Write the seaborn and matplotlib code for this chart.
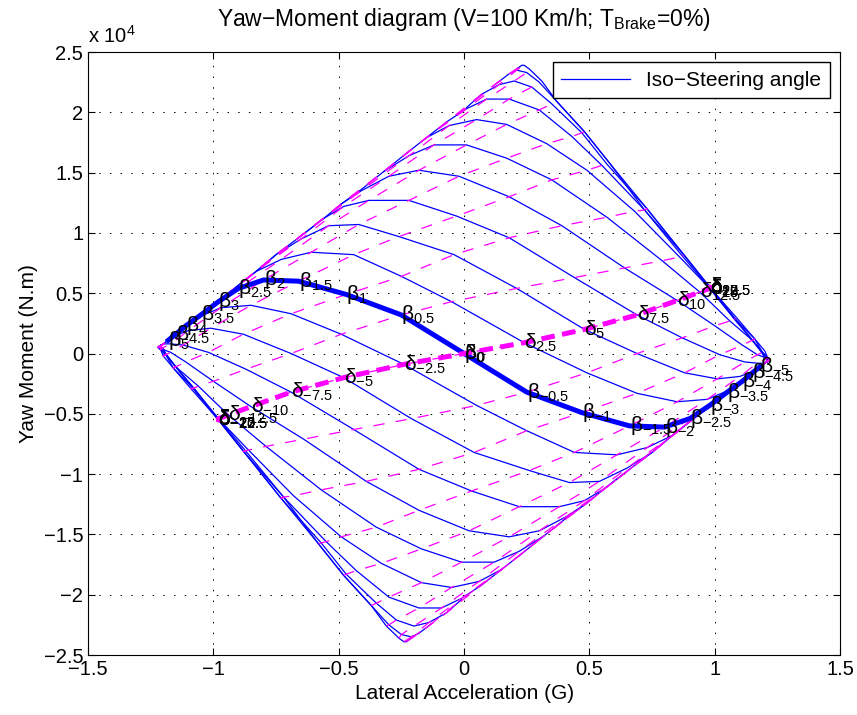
import matplotlib

matplotlib.use("Agg")

import matplotlib.pyplot as plt
from matplotlib.lines import Line2D
from matplotlib.ticker import FuncFormatter, MultipleLocator
import pandas as pd
import seaborn as sns

# steering angle (deg), one iso-steering line each
steer_angle = [-25, -22.5, -20, -17.5, -15, -12.5, -10, -7.5, -5, -2.5, 0,
               2.5, 5, 7.5, 10, 12.5, 15, 17.5, 20, 22.5, 25]
# body sideslip angle (deg), one iso-beta line each
sideslip = [-5, -4.5, -4, -3.5, -3, -2.5, -2, -1.5, -1, -0.5, 0,
            0.5, 1, 1.5, 2, 2.5, 3, 3.5, 4, 4.5, 5]

# lateral acceleration (G): rows = steer_angle, columns = sideslip
lat_acc = [
    [-0.21, -0.23, -0.24, -0.26, -0.31, -0.37, -0.48, -0.58, -0.72, -0.87, -0.98, -1.08, -1.15, -1.19, -1.20, -1.21, -1.21, -1.21, -1.21, -1.21, -1.21],
    [-0.13, -0.18, -0.21, -0.25, -0.30, -0.37, -0.48, -0.58, -0.73, -0.88, -0.98, -1.08, -1.15, -1.19, -1.20, -1.21, -1.21, -1.21, -1.21, -1.21, -1.21],
    [-0.01, -0.07, -0.14, -0.20, -0.27, -0.35, -0.47, -0.57, -0.73, -0.88, -0.98, -1.08, -1.15, -1.19, -1.21, -1.21, -1.21, -1.21, -1.21, -1.21, -1.21],
    [0.15, 0.07, -0.01, -0.09, -0.18, -0.30, -0.43, -0.55, -0.72, -0.88, -0.98, -1.09, -1.16, -1.19, -1.21, -1.21, -1.21, -1.21, -1.21, -1.21, -1.21],
    [0.32, 0.23, 0.15, 0.06, -0.05, -0.17, -0.33, -0.49, -0.68, -0.86, -0.98, -1.08, -1.16, -1.20, -1.21, -1.22, -1.21, -1.21, -1.21, -1.21, -1.21],
    [0.49, 0.41, 0.32, 0.22, 0.12, -0.01, -0.17, -0.35, -0.57, -0.79, -0.94, -1.06, -1.15, -1.19, -1.21, -1.22, -1.22, -1.22, -1.22, -1.22, -1.21],
    [0.66, 0.56, 0.49, 0.41, 0.30, 0.18, 0.02, -0.18, -0.39, -0.64, -0.85, -1.00, -1.11, -1.17, -1.21, -1.22, -1.22, -1.22, -1.22, -1.22, -1.22],
    [0.83, 0.75, 0.66, 0.56, 0.48, 0.38, 0.22, 0.03, -0.18, -0.44, -0.69, -0.87, -1.02, -1.12, -1.17, -1.20, -1.21, -1.22, -1.22, -1.22, -1.22],
    [0.98, 0.91, 0.83, 0.75, 0.65, 0.54, 0.42, 0.26, 0.04, -0.21, -0.48, -0.69, -0.88, -1.01, -1.10, -1.15, -1.18, -1.20, -1.21, -1.22, -1.22],
    [1.11, 1.05, 0.98, 0.91, 0.83, 0.73, 0.61, 0.44, 0.25, 0.05, -0.24, -0.49, -0.69, -0.85, -0.97, -1.05, -1.11, -1.15, -1.18, -1.20, -1.21],
    [1.18, 1.15, 1.11, 1.05, 0.98, 0.90, 0.80, 0.66, 0.47, 0.25, 0.00, -0.25, -0.47, -0.66, -0.80, -0.90, -0.98, -1.05, -1.11, -1.15, -1.18],
    [1.21, 1.20, 1.18, 1.15, 1.11, 1.05, 0.97, 0.85, 0.69, 0.49, 0.24, -0.05, -0.25, -0.44, -0.61, -0.73, -0.83, -0.91, -0.98, -1.05, -1.11],
    [1.22, 1.22, 1.21, 1.20, 1.18, 1.15, 1.10, 1.01, 0.88, 0.69, 0.48, 0.21, -0.04, -0.26, -0.42, -0.54, -0.65, -0.75, -0.83, -0.91, -0.98],
    [1.22, 1.22, 1.22, 1.22, 1.21, 1.20, 1.17, 1.12, 1.02, 0.87, 0.69, 0.44, 0.18, -0.03, -0.22, -0.38, -0.48, -0.56, -0.66, -0.75, -0.83],
    [1.22, 1.22, 1.22, 1.22, 1.22, 1.21, 1.21, 1.17, 1.11, 1.00, 0.85, 0.64, 0.39, 0.18, -0.02, -0.18, -0.30, -0.41, -0.49, -0.56, -0.66],
    [1.21, 1.22, 1.22, 1.22, 1.22, 1.22, 1.21, 1.19, 1.15, 1.06, 0.94, 0.79, 0.57, 0.35, 0.17, 0.01, -0.12, -0.22, -0.32, -0.41, -0.49],
    [1.21, 1.21, 1.21, 1.21, 1.21, 1.22, 1.21, 1.20, 1.16, 1.08, 0.98, 0.86, 0.68, 0.49, 0.33, 0.17, 0.05, -0.06, -0.15, -0.23, -0.32],
    [1.21, 1.21, 1.21, 1.21, 1.21, 1.21, 1.21, 1.19, 1.16, 1.09, 0.98, 0.88, 0.72, 0.55, 0.43, 0.30, 0.18, 0.09, 0.01, -0.07, -0.15],
    [1.21, 1.21, 1.21, 1.21, 1.21, 1.21, 1.21, 1.19, 1.15, 1.08, 0.98, 0.88, 0.73, 0.57, 0.47, 0.35, 0.27, 0.20, 0.14, 0.07, 0.01],
    [1.21, 1.21, 1.21, 1.21, 1.21, 1.21, 1.20, 1.19, 1.15, 1.08, 0.98, 0.88, 0.73, 0.58, 0.48, 0.37, 0.30, 0.25, 0.21, 0.18, 0.13],
    [1.21, 1.21, 1.21, 1.21, 1.21, 1.21, 1.20, 1.19, 1.15, 1.08, 0.98, 0.87, 0.72, 0.58, 0.48, 0.37, 0.31, 0.26, 0.24, 0.23, 0.21],
]

# yaw moment (x 10^4 N.m): rows = steer_angle, columns = sideslip
yaw_moment = [
    [-2.36, -2.39, -2.39, -2.36, -2.26, -2.09, -1.84, -1.58, -1.19, -0.81, -0.54, -0.28, -0.11, 0.00, 0.04, 0.06, 0.07, 0.07, 0.07, 0.07, 0.07],
    [-2.24, -2.32, -2.35, -2.33, -2.25, -2.09, -1.84, -1.58, -1.20, -0.81, -0.55, -0.29, -0.11, -0.01, 0.04, 0.06, 0.06, 0.07, 0.07, 0.07, 0.07],
    [-2.04, -2.15, -2.23, -2.26, -2.21, -2.07, -1.83, -1.57, -1.20, -0.81, -0.55, -0.29, -0.11, -0.01, 0.04, 0.06, 0.06, 0.06, 0.06, 0.06, 0.07],
    [-1.79, -1.92, -2.03, -2.11, -2.11, -2.02, -1.80, -1.56, -1.19, -0.81, -0.55, -0.29, -0.12, -0.01, 0.04, 0.06, 0.06, 0.06, 0.06, 0.06, 0.06],
    [-1.51, -1.66, -1.79, -1.89, -1.94, -1.90, -1.74, -1.52, -1.18, -0.80, -0.54, -0.29, -0.12, -0.02, 0.03, 0.05, 0.05, 0.06, 0.06, 0.06, 0.06],
    [-1.24, -1.36, -1.51, -1.64, -1.73, -1.73, -1.62, -1.44, -1.13, -0.77, -0.51, -0.27, -0.11, -0.01, 0.03, 0.05, 0.05, 0.05, 0.05, 0.06, 0.06],
    [-0.96, -1.12, -1.24, -1.35, -1.47, -1.52, -1.47, -1.30, -1.06, -0.71, -0.44, -0.23, -0.07, 0.01, 0.04, 0.05, 0.05, 0.05, 0.05, 0.05, 0.05],
    [-0.68, -0.82, -0.96, -1.12, -1.22, -1.27, -1.27, -1.14, -0.96, -0.63, -0.32, -0.13, 0.01, 0.07, 0.08, 0.08, 0.06, 0.05, 0.05, 0.05, 0.05],
    [-0.43, -0.55, -0.68, -0.82, -0.95, -1.06, -1.07, -0.97, -0.82, -0.54, -0.20, 0.00, 0.16, 0.21, 0.19, 0.15, 0.11, 0.08, 0.06, 0.05, 0.05],
    [-0.23, -0.32, -0.43, -0.55, -0.68, -0.78, -0.84, -0.82, -0.64, -0.43, -0.09, 0.16, 0.33, 0.40, 0.38, 0.31, 0.23, 0.16, 0.11, 0.08, 0.06],
    [-0.11, -0.16, -0.23, -0.32, -0.43, -0.54, -0.61, -0.60, -0.49, -0.32, 0.00, 0.32, 0.49, 0.60, 0.61, 0.54, 0.43, 0.32, 0.23, 0.16, 0.11],
    [-0.06, -0.08, -0.11, -0.16, -0.23, -0.31, -0.38, -0.40, -0.33, -0.16, 0.09, 0.43, 0.64, 0.82, 0.84, 0.78, 0.68, 0.55, 0.43, 0.32, 0.23],
    [-0.05, -0.05, -0.06, -0.08, -0.11, -0.15, -0.19, -0.21, -0.16, 0.00, 0.20, 0.54, 0.82, 0.97, 1.07, 1.06, 0.95, 0.82, 0.68, 0.55, 0.43],
    [-0.05, -0.05, -0.05, -0.05, -0.06, -0.08, -0.08, -0.07, -0.01, 0.13, 0.32, 0.63, 0.96, 1.14, 1.27, 1.27, 1.22, 1.12, 0.96, 0.82, 0.68],
    [-0.05, -0.05, -0.05, -0.05, -0.05, -0.05, -0.04, -0.01, 0.07, 0.23, 0.44, 0.71, 1.06, 1.30, 1.47, 1.52, 1.47, 1.35, 1.24, 1.12, 0.96],
    [-0.06, -0.06, -0.05, -0.05, -0.05, -0.05, -0.03, 0.01, 0.11, 0.27, 0.51, 0.77, 1.13, 1.44, 1.62, 1.73, 1.73, 1.64, 1.51, 1.36, 1.24],
    [-0.06, -0.06, -0.06, -0.06, -0.05, -0.05, -0.03, 0.02, 0.12, 0.29, 0.54, 0.80, 1.18, 1.52, 1.74, 1.90, 1.94, 1.89, 1.79, 1.66, 1.51],
    [-0.06, -0.06, -0.06, -0.06, -0.06, -0.06, -0.03, 0.01, 0.12, 0.29, 0.55, 0.81, 1.19, 1.56, 1.80, 2.02, 2.11, 2.11, 2.03, 1.92, 1.79],
    [-0.07, -0.06, -0.06, -0.06, -0.06, -0.06, -0.04, 0.01, 0.11, 0.29, 0.55, 0.81, 1.20, 1.57, 1.83, 2.07, 2.21, 2.26, 2.23, 2.15, 2.04],
    [-0.07, -0.07, -0.07, -0.06, -0.06, -0.06, -0.04, 0.01, 0.11, 0.29, 0.55, 0.81, 1.20, 1.58, 1.84, 2.09, 2.25, 2.33, 2.35, 2.32, 2.24],
    [-0.07, -0.07, -0.07, -0.07, -0.07, -0.06, -0.04, 0.00, 0.11, 0.28, 0.54, 0.81, 1.19, 1.58, 1.84, 2.09, 2.26, 2.36, 2.39, 2.39, 2.36],
]

BLUE = "#0000ff"
MAGENTA = "#ff00ff"


def minus(v):
    return f"{v:g}".replace("-", "\u2212")


rows = []
for i, d in enumerate(steer_angle):
    for j, b in enumerate(sideslip):
        rows.append({"delta": d, "beta": b, "ay": lat_acc[i][j], "mz": yaw_moment[i][j]})
df = pd.DataFrame(rows)

plt.rcParams["font.family"] = ["Liberation Sans", "DejaVu Sans"]
plt.rcParams["mathtext.fontset"] = "custom"
plt.rcParams["mathtext.rm"] = "Liberation Sans"
plt.rcParams["mathtext.it"] = "Liberation Sans"
plt.rcParams["mathtext.bf"] = "Liberation Sans:bold"

fig = plt.figure(figsize=(8.57, 7.15), dpi=100)
ax = fig.add_axes([0.1027, 0.0839, 0.8776, 0.8433])

# iso-steering (solid blue) and iso-sideslip (dashed magenta) lines
sns.lineplot(data=df, x="ay", y="mz", units="delta", estimator=None, sort=False,
             color=BLUE, lw=0.9, ax=ax)
sns.lineplot(data=df, x="ay", y="mz", units="beta", estimator=None, sort=False,
             color=MAGENTA, lw=0.9, linestyle=(0, (9, 9)), ax=ax)
sns.lineplot(data=df[df["delta"] == 0], x="ay", y="mz", estimator=None, sort=False,
             color=BLUE, lw=3.6, ax=ax)
sns.lineplot(data=df[df["beta"] == 0], x="ay", y="mz", estimator=None, sort=False,
             color=MAGENTA, lw=3.6, linestyle=(0, (2.7, 1.5)), ax=ax)

for _, r in df[df["beta"] == 0].iterrows():
    ax.text(r["ay"], r["mz"], r"$\delta_{%s}$" % f"{r['delta']:g}", fontsize=15,
            ha="left", va="center")
for _, r in df[df["delta"] == 0].iterrows():
    ax.text(r["ay"], r["mz"], r"$\beta_{%s}$" % f"{r['beta']:g}", fontsize=15,
            ha="left", va="center")

ax.set_xlim(-1.5, 1.5)
ax.set_ylim(-2.5, 2.5)
ax.xaxis.set_major_locator(MultipleLocator(0.5))
ax.yaxis.set_major_locator(MultipleLocator(0.5))
ax.xaxis.set_major_formatter(FuncFormatter(lambda v, p: minus(v)))
ax.yaxis.set_major_formatter(FuncFormatter(lambda v, p: minus(v)))
ax.tick_params(direction="in", top=True, right=True, length=5, labelsize=14.5, width=0.8)
ax.grid(True, color="k", linestyle=(0, (1.5, 9.5)), linewidth=0.7)
for s in ax.spines.values():
    s.set_linewidth(0.8)
ax.text(0, 1.008, r"x 10$^{4}$", transform=ax.transAxes, fontsize=14.5, ha="left", va="bottom")

ax.set_xlabel("Lateral Acceleration (G)", fontsize=15)
ax.set_ylabel("Yaw Moment (N.m)", fontsize=15)
ax.set_title("Yaw\u2212Moment diagram (V=100 Km/h; $T_{\\mathrm{Brake}}$=0%)", fontsize=16.5, pad=19)

ax.legend([Line2D([], [], color=BLUE, lw=0.9)], ["Iso\u2212Steering angle"], loc="upper right",
          fancybox=False, edgecolor="k", framealpha=1, fontsize=15, handlelength=3.3,
          borderaxespad=0.5)

fig.savefig("out.png", dpi=100)
